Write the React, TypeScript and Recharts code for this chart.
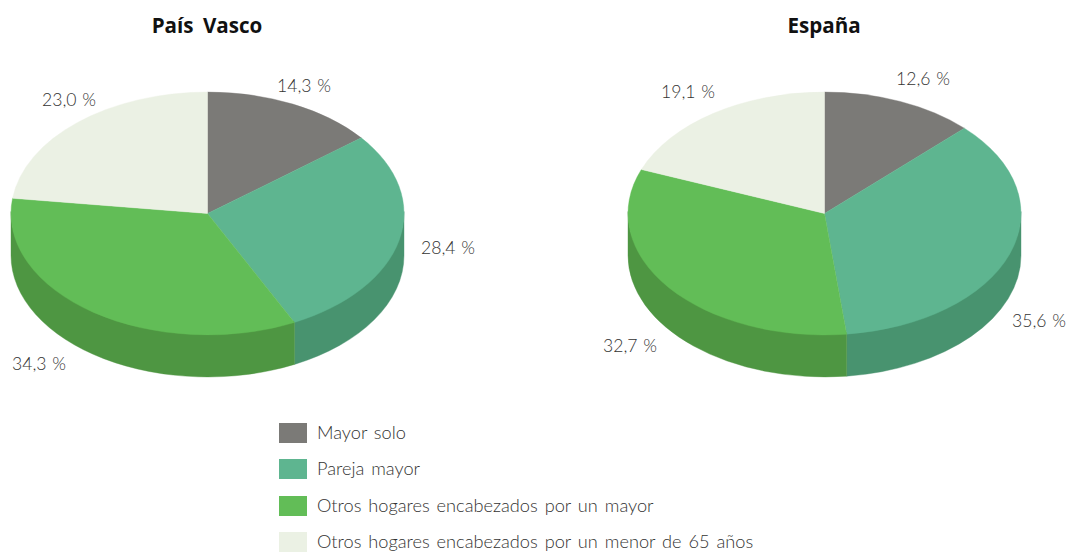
// Household composition pies, drawn as tilted discs with a side wall
import { PieChart, Pie, Legend } from "recharts";

const CATEGORIES = [
  "Mayor solo",
  "Pareja mayor",
  "Otros hogares encabezados por un mayor",
  "Otros hogares encabezados por un menor de 65 años",
];
const PAIS_VASCO = [14.3, 28.4, 34.3, 23.0];
const ESPANA = [12.6, 35.6, 32.7, 19.1];

const TOP_COLOURS = ["#7b7a77", "#5eb590", "#62bd57", "#ebf1e4"];
const WALL_COLOURS = ["#5f5e5c", "#48936f", "#4e9642", "#b8bcb0"];

const WIDTH = 1066;
const HEIGHT = 553;
const RADIUS = 196.5;
const TILT = 0.618;
const DEPTH = 42;
const CY = 213.5;
const TEXT_FONT = "Lato, sans-serif";
const TITLE_FONT = "'Open Sans', sans-serif";
const TEXT_COLOUR = "#333332";

const LEFT_LABELS = [[277, 92], [421, 254], [12, 370], [42, 106]];
const RIGHT_LABELS = [[896, 85], [1012, 327], [603, 352], [661, 98]];

const rad = (a: number) => (a * Math.PI) / 180;
const fmt = (v: number) => `${v.toFixed(1).replace(".", ",")} %`;

function TopFace(props: any) {
  const { cx, cy, outerRadius: rx, startAngle, endAngle, fill } = props;
  const ry = rx * TILT;
  const x1 = cx + rx * Math.cos(rad(startAngle));
  const y1 = cy - ry * Math.sin(rad(startAngle));
  const x2 = cx + rx * Math.cos(rad(endAngle));
  const y2 = cy - ry * Math.sin(rad(endAngle));
  const large = Math.abs(startAngle - endAngle) > 180 ? 1 : 0;
  return (
    <path
      d={`M${cx},${cy}L${x1},${y1}A${rx},${ry} 0 ${large} 1 ${x2},${y2}Z`}
      fill={fill}
      stroke={fill}
      strokeWidth={0.4}
    />
  );
}

// only the front half of the disc (-180..0 degrees) shows a wall
function SideWall(props: any) {
  const { cx, cy, outerRadius: rx, startAngle, endAngle, fill } = props;
  const ry = rx * TILT;
  const from = Math.min(startAngle, 0);
  const to = Math.max(endAngle, -180);
  if (from <= to) return null;
  const x1 = cx + rx * Math.cos(rad(from));
  const y1 = cy - ry * Math.sin(rad(from));
  const x2 = cx + rx * Math.cos(rad(to));
  const y2 = cy - ry * Math.sin(rad(to));
  // starts a little above the rim so no seam shows under the top face
  return (
    <path
      d={`M${x1},${y1 - 2}A${rx},${ry} 0 0 1 ${x2},${y2 - 2}L${x2},${y2 + DEPTH}A${rx},${ry} 0 0 0 ${x1},${y1 + DEPTH}Z`}
      fill={fill}
      stroke={fill}
      strokeWidth={0.4}
    />
  );
}

const rows = (values: number[], colours: string[]) =>
  values.map((value, i) => ({ name: CATEGORIES[i], value, fill: colours[i] }));

const valueLabel = (positions: number[][], values: number[]) => (p: any) => (
  <text
    key={p.index}
    x={positions[p.index][0]}
    y={positions[p.index][1]}
    fontFamily={TEXT_FONT}
    fontWeight={300}
    fontSize={17.6}
    fill={TEXT_COLOUR}
    style={{ wordSpacing: 1 }}
  >
    {fmt(values[p.index])}
  </text>
);

function LegendBox() {
  return (
    <div>
      {CATEGORIES.map((name, i) => (
        <div key={name} style={{ display: "flex", alignItems: "center", height: 36.3 }}>
          <span style={{ width: 28, height: 20, background: TOP_COLOURS[i], marginRight: 10 }} />
          <span style={{ fontFamily: TEXT_FONT, fontWeight: 300, fontSize: 18.2, color: TEXT_COLOUR, whiteSpace: "nowrap", wordSpacing: 2, position: "relative", top: -1 }}>
            {name}
          </span>
        </div>
      ))}
    </div>
  );
}

function Title({ x, children }: { x: number; children: string }) {
  return (
    <text x={x} y={33} textAnchor="middle" fontFamily={TITLE_FONT} fontWeight={700} fontSize={20.6} fill="#111" style={{ wordSpacing: 4 }}>
      {children}
    </text>
  );
}

export default function App() {
  const pie = { dataKey: "value", startAngle: 90, endAngle: -270, outerRadius: RADIUS, innerRadius: 0, cy: CY, stroke: "none", isAnimationActive: false, labelLine: false } as const;
  return (
    <div style={{ position: "absolute", left: 0, top: 0, width: WIDTH, height: HEIGHT, background: "#fff" }}>
      <PieChart width={WIDTH} height={HEIGHT} margin={{ top: 0, right: 0, bottom: 0, left: 0 }}>
        <Title x={207}>País Vasco</Title>
        <Title x={824}>España</Title>
        <Pie {...pie} data={rows(PAIS_VASCO, WALL_COLOURS)} cx={207.5} shape={SideWall} />
        <Pie {...pie} data={rows(ESPANA, WALL_COLOURS)} cx={824.5} shape={SideWall} />
        <Pie {...pie} data={rows(PAIS_VASCO, TOP_COLOURS)} cx={207.5} shape={TopFace} label={valueLabel(LEFT_LABELS, PAIS_VASCO)} />
        <Pie {...pie} data={rows(ESPANA, TOP_COLOURS)} cx={824.5} shape={TopFace} label={valueLabel(RIGHT_LABELS, ESPANA)} />
        <Legend content={<LegendBox />} wrapperStyle={{ left: 279, top: 415, width: 600, bottom: "auto" }} />
      </PieChart>
    </div>
  );
}
